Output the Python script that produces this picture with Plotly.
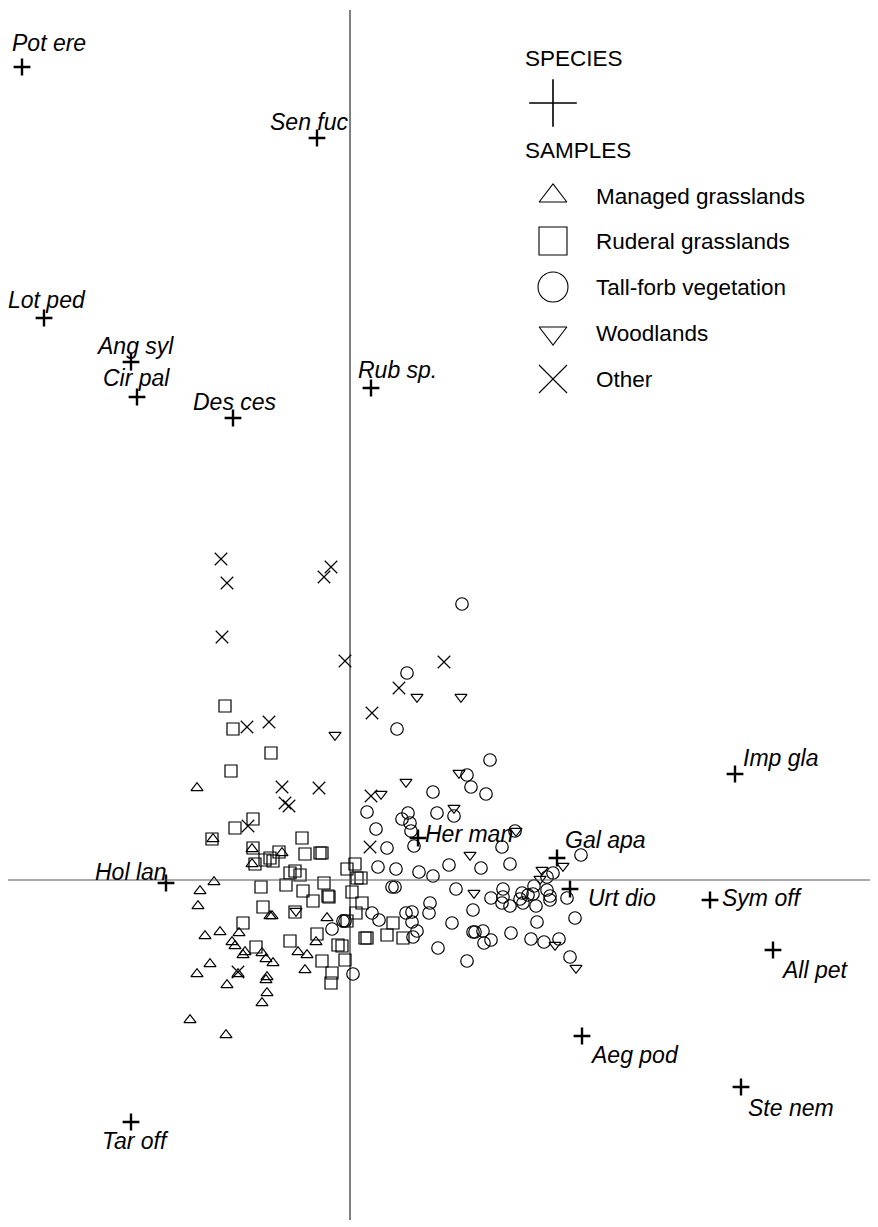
import plotly.graph_objects as go

# ---------------- data (ordination scores, axis 1 / axis 2) ----------------
species_names = ["Pot ere", "Sen fuc", "Lot ped", "Ang syl", "Cir pal", "Des ces", "Rub sp.",
                 "Imp gla", "Her man", "Gal apa", "Hol lan", "Urt dio", "Sym off", "All pet",
                 "Aeg pod", "Ste nem", "Tar off"]
species_x = [-3.28, -0.33, -3.06, -2.19, -2.13, -1.17, 0.21, 3.85, 0.68, 2.07, -1.84, 2.20,
             3.60, 4.23, 2.32, 3.91, -2.19]
species_y = [8.13, 7.42, 5.62, 5.18, 4.83, 4.62, 4.92, 1.06, 0.42, 0.22, -0.03, -0.09,
             -0.20, -0.70, -1.56, -2.07, -2.42]
# label offsets in pixels (dx right, dy up) relative to the species point
label_dx = [-12, -49, -38, -37, -36, -42, -15, 6, 5, 6, -73, 16, 10, 6, 6, 5, -31]
label_dy = [24, 16, 18, 16, 19, 16, 18, 16, 4, 18, 11, -9, 2, -20, -19, -21, -19]

managed_x = [-1.53, -1.37, -0.98, -0.68, -0.98, -1.36, -1.50, -1.52, -0.80, -0.78, -1.30, -1.45,
             -1.11, -1.18, -1.15, -1.05, -1.07, -0.88, -0.84, -0.77, -0.52, -0.43, -0.23, -0.34,
             -1.40, -1.53, -1.12, -0.83, -0.84, -1.23, -0.45, -0.83, -0.88, -1.60, -1.24]
managed_y = [0.92, 0.41, 0.31, 0.27, 0.16, -0.02, -0.11, -0.26, -0.36, -0.36, -0.52, -0.56,
             -0.53, -0.62, -0.66, -0.72, -0.75, -0.73, -0.79, -0.83, -0.72, -0.75, -0.38, -0.62,
             -0.84, -0.94, -0.94, -0.97, -1.00, -1.05, -0.90, -1.13, -1.23, -1.40, -1.55]

ruderal_x = [-1.25, -1.17, -0.79, -1.19, -0.97, -1.15, -1.38, -0.48, -0.97, -0.71, -0.45, -0.30,
             -0.28, -0.80, -0.77, -0.85, -0.95, -0.55, -0.60, -0.50, -0.03, 0.05, 0.07, -0.89,
             -0.64, -0.47, -0.26, -0.37, -0.22, -0.21, 0.02, -0.87, -0.55, -1.07, -0.33, -0.60,
             -0.12, -0.94, 0.11, 0.12, 0.06, -0.03, 0.43, 0.37, 0.53, 0.15, 0.17, -0.08, -0.05,
             -0.28, -0.18, -0.19]
ruderal_y = [1.74, 1.51, 1.27, 1.09, 0.61, 0.52, 0.41, 0.42, 0.32, 0.28, 0.26, 0.27,
             0.27, 0.22, 0.19, 0.20, 0.16, 0.09, 0.07, 0.05, 0.11, 0.16, 0.02, -0.07,
             -0.05, -0.11, -0.03, -0.21, -0.16, -0.17, -0.12, -0.27, -0.32, -0.43, -0.54, -0.61,
             -0.65, -0.67, 0.02, -0.23, -0.33, -0.41, -0.43, -0.55, -0.58, -0.58, -0.58, -0.66, -0.80,
             -0.81, -0.93, -1.03]

tallforb_x = [1.12, 0.57, 0.47, 1.40, 1.17, 1.21, 1.36, 0.83, 0.17, 0.58, 0.52, 0.60, 0.87, 1.04,
              0.61, 0.26, 0.64, 0.37, 1.52, 1.65, 2.31, 2.03, 0.28, 0.46, 0.69, 0.83, 0.99, 1.31,
              1.60, 1.97, 0.42, 0.45, 1.06, 1.53, 1.53, 1.41, 1.52, 1.60, 1.72, 1.70, 1.73, 1.78,
              1.83, 1.84, 1.97, 2.00, 2.00, 2.17, 1.86, 0.22, 0.29, 0.56, 0.62, 0.62, 0.67, 0.63,
              0.80, 0.79, 1.02, 1.23, 1.23, 1.25, 1.33, 1.34, 1.41, 1.61, 1.87, 2.25, 1.81, 1.94,
              2.09, 2.20, 0.88, 1.17, 0.03, -0.07, -0.05, -0.18]
tallforb_y = [2.76, 2.07, 1.51, 1.20, 1.05, 0.93, 0.86, 0.88, 0.68, 0.67, 0.61, 0.57, 0.67, 0.64,
              0.49, 0.51, 0.34, 0.32, 0.33, 0.49, 0.25, 0.07, 0.13, 0.11, 0.08, 0.04, 0.15, 0.12,
              0.16, 0.03, -0.07, -0.07, -0.09, -0.09, -0.17, -0.18, -0.23, -0.26, -0.13, -0.19, -0.23, -0.15,
              -0.14, -0.06, -0.10, -0.16, -0.20, -0.18, -0.26, -0.33, -0.40, -0.33, -0.32, -0.42, -0.51, -0.57,
              -0.23, -0.33, -0.43, -0.30, -0.52, -0.52, -0.51, -0.63, -0.60, -0.53, -0.42, -0.38, -0.59, -0.62,
              -0.59, -0.77, -0.68, -0.81, -0.94, -0.41, -0.41, -0.49]

woodland_x = [-0.15, 0.67, 1.11, 1.09, 0.31, 0.56, 1.04, 1.66, 1.20, 2.13, 1.92, 1.90, 1.24,
              2.05, 2.26, -0.54]
woodland_y = [1.45, 1.83, 1.83, 1.07, 0.86, 0.98, 0.72, 0.49, 0.25, 0.14, 0.10, 0.01, -0.13,
              -0.65, -0.88, -0.31]

other_x = [-1.29, -1.23, -1.28, -0.19, -0.26, -0.05, 0.94, 0.49, 0.22, -1.03, -0.81, -0.68,
           -0.31, -0.65, -0.61, -1.02, 0.21, 0.20, -1.12]
other_y = [3.21, 2.97, 2.43, 3.13, 3.03, 2.19, 2.18, 1.92, 1.67, 1.53, 1.58, 0.93,
           0.92, 0.77, 0.74, 0.54, 0.84, 0.33, -0.92]

legend_labels = ["Managed grasslands", "Ruderal grasslands", "Tall-forb vegetation", "Woodlands", "Other"]

# ---------------- figure ----------------
FONT = "Liberation Sans, Arial, Helvetica, sans-serif"
fig = go.Figure()

groups = [
    (managed_x, managed_y, "triangle-up-open", 10.5),
    (ruderal_x, ruderal_y, "square-open", 12),
    (tallforb_x, tallforb_y, "circle-open", 12.5),
    (woodland_x, woodland_y, "triangle-down-open", 10.5),
    (other_x, other_y, "x-thin-open", 12.5),
]
for (gx, gy, sym, sz), name in zip(groups, legend_labels):
    fig.add_trace(go.Scatter(x=gx, y=gy, mode="markers", name=name, showlegend=False,
                             marker=dict(symbol=sym, size=sz, color="black",
                                         line=dict(color="black", width=1.2))))

fig.add_trace(go.Scatter(x=species_x, y=species_y, mode="markers", name="Species", showlegend=False,
                         marker=dict(symbol="cross-thin-open", size=12, color="black",
                                     line=dict(color="black", width=2.4))))

for n, x, y, dx, dy in zip(species_names, species_x, species_y, label_dx, label_dy):
    fig.add_annotation(x=x, y=y, text="<i>" + n + "</i>", showarrow=False,
                       xanchor="left", yanchor="middle", xshift=dx, yshift=dy,
                       font=dict(family=FONT, size=23, color="black"))

# axes through the origin
fig.add_shape(type="line", x0=0, x1=0, y0=-3.40, y1=8.70, line=dict(color="black", width=1))
fig.add_shape(type="line", x0=-3.42, x1=5.25, y0=0, y1=0, line=dict(color="#555555", width=1.2))

# ---------------- legend (overlay axis in pixel units) ----------------
leg_sym = ["triangle-up-open", "square-open", "circle-open", "triangle-down-open", "x-thin-open"]
leg_size = [24, 28, 30, 24, 28]
leg_y = [196, 241, 287, 333, 379]
fig.add_trace(go.Scatter(x=[553], y=[103], mode="markers", xaxis="x2", yaxis="y2", showlegend=False,
                         marker=dict(symbol="cross-thin-open", size=34, color="black",
                                     line=dict(color="black", width=1.6))))
for s, sz, ly, lab in zip(leg_sym, leg_size, leg_y, legend_labels):
    fig.add_trace(go.Scatter(x=[553], y=[ly], mode="markers", xaxis="x2", yaxis="y2", showlegend=False,
                             marker=dict(symbol=s, size=sz, color="black",
                                         line=dict(color="black", width=1.1))))
    fig.add_annotation(x=594, y=ly, xref="x2", yref="y2", text=lab, showarrow=False,
                       xanchor="left", yanchor="middle",
                       font=dict(family=FONT, size=22.5, color="black"))
for lab, ly in [("SPECIES", 58), ("SAMPLES", 150)]:
    fig.add_annotation(x=523, y=ly, xref="x2", yref="y2", text=lab, showarrow=False,
                       xanchor="left", yanchor="middle",
                       font=dict(family=FONT, size=22.5, color="black"))

# the page body adds an 8 px offset, so the figure is 870x1219 and ranges start 8 px in
fig.update_layout(
    width=870, height=1219,
    margin=dict(l=0, r=0, t=0, b=0),
    paper_bgcolor="white", plot_bgcolor="white",
    xaxis=dict(range=[-3.42, 5.28], visible=False, fixedrange=True),
    yaxis=dict(range=[-3.47, 8.72], visible=False, fixedrange=True),
    xaxis2=dict(range=[8, 878], overlaying="x", visible=False, fixedrange=True),
    yaxis2=dict(range=[1227, 8], overlaying="y", visible=False, fixedrange=True),
    showlegend=False,
)

fig.write_html("out.html")
